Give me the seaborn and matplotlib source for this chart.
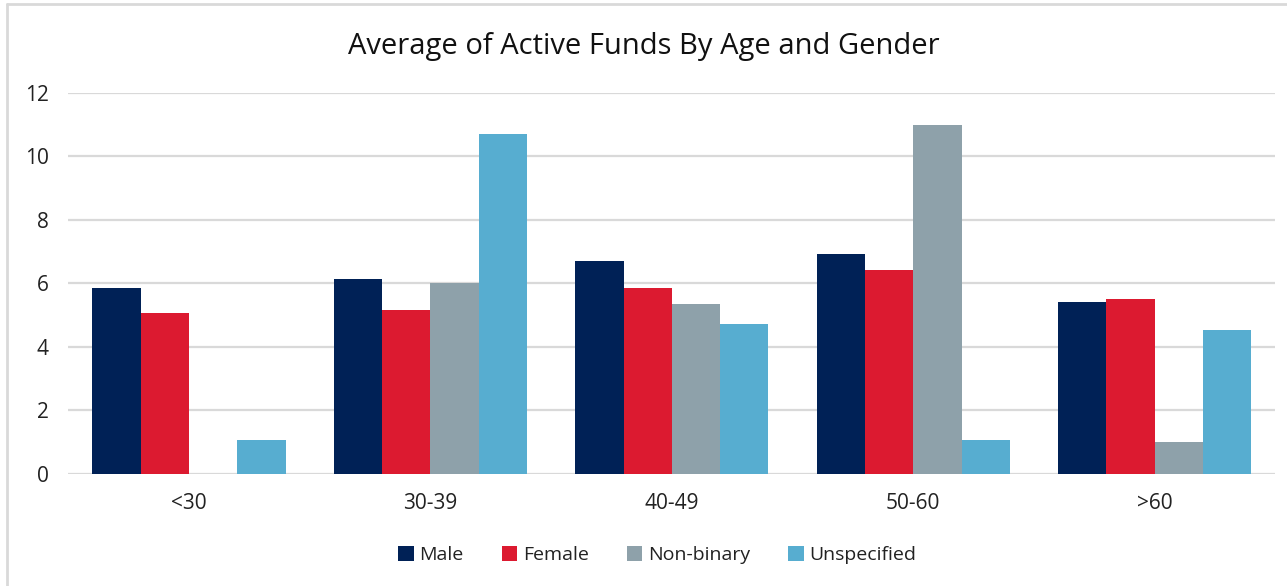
import matplotlib
matplotlib.use("Agg")
import matplotlib.pyplot as plt
from matplotlib.lines import Line2D
import seaborn as sns
import pandas as pd

categories = ["<30", "30-39", "40-49", "50-60", ">60"]
series = ["Male", "Female", "Non-binary", "Unspecified"]
male = [5.85, 6.14, 6.71, 6.94, 5.40]
female = [5.06, 5.17, 5.85, 6.42, 5.51]
nonbinary = [0.0, 6.02, 5.34, 11.0, 1.0]
unspecified = [1.06, 10.71, 4.71, 1.05, 4.54]
yticks = [0, 2, 4, 6, 8, 10, 12]
title = "Average of Active Funds By Age and Gender"
colors = ["#002156", "#DC1A30", "#8EA1AA", "#57ADD0"]

rows = []
for name, vals in zip(series, [male, female, nonbinary, unspecified]):
    for c, v in zip(categories, vals):
        rows.append({"Age": c, "Gender": name, "Value": v})
df = pd.DataFrame(rows)

sns.set_theme(style="white")
plt.rcParams["font.family"] = ["Open Sans", "DejaVu Sans"]

fig = plt.figure(figsize=(12.87, 5.86), dpi=100)
ax = fig.add_axes([0.053, 0.1917, 0.938, 0.6495])

sns.barplot(data=df, x="Age", y="Value", hue="Gender", order=categories,
            hue_order=series, palette=colors, width=0.8, saturation=1,
            ax=ax, errorbar=None, linewidth=0, zorder=3)

ax.set_ylim(0, 12)
ax.set_yticks(yticks)
ax.set_yticklabels([str(t) for t in yticks], fontsize=15, color="#222222")
ax.tick_params(axis="x", labelsize=15, colors="#222222", pad=14, length=0)
ax.tick_params(axis="y", pad=14, length=0)
ax.set_xlabel("")
ax.set_ylabel("")
ax.grid(axis="y", color="#D9D9D9", linewidth=1.6, zorder=0)
ax.set_axisbelow(True)
for s in ax.spines.values():
    s.set_visible(False)
ax.set_xlim(-0.5, len(categories) - 0.5)

fig.text(0.5, 0.921, title, ha="center", va="center", fontsize=21, color="#111111")

leg = ax.legend(loc="center", bbox_to_anchor=(0.488, -0.214), ncol=4,
                frameon=False, fontsize=14, handlelength=0.8, handleheight=0.8,
                handletextpad=0.3, columnspacing=1.95)
for t in leg.get_texts():
    t.set_color("#222222")

fig.add_artist(Line2D([0.0054, 0.0054], [0.0, 0.993], transform=fig.transFigure,
                      color="#D9D9D9", linewidth=2))
fig.add_artist(Line2D([0.0054, 1.0], [0.993, 0.993], transform=fig.transFigure,
                      color="#D9D9D9", linewidth=2))

fig.savefig("out.png", dpi=100, facecolor="white")
